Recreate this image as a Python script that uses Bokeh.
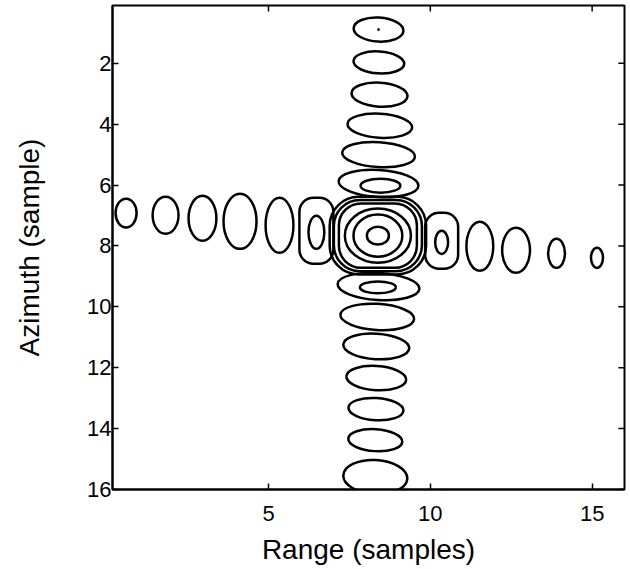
from bokeh.plotting import figure
from bokeh.models import Range1d, FixedTicker, ColumnDataSource
from bokeh.embed import file_html
from bokeh.resources import INLINE

FONT = "Liberation Sans"

# ---------------- data ----------------
x_ticks = [5, 10, 15]
y_ticks = [2, 4, 6, 8, 10, 12, 14, 16]

# azimuth sidelobes (vertical column): centre range, centre azimuth, width, height
az_lobe_x = [8.40, 8.41, 8.43, 8.44, 8.40, 8.40, 8.40, 8.36, 8.33, 8.33, 8.32, 8.30, 8.30]
az_lobe_y = [0.89, 1.97, 3.03, 4.05, 5.00, 5.95, 9.33, 10.33, 11.30, 12.34, 13.36, 14.38, 15.59]
az_lobe_w = [1.54, 1.57, 1.73, 2.00, 2.25, 2.47, 2.53, 2.28, 2.04, 1.85, 1.70, 1.67, 1.98]
az_lobe_h = [0.79, 0.72, 0.79, 0.79, 0.82, 0.89, 0.89, 0.86, 0.84, 0.80, 0.73, 0.72, 1.12]

# range sidelobes (horizontal row)
rg_lobe_x = [0.60, 1.82, 2.96, 4.12, 5.34, 11.53, 12.65, 13.90, 15.15]
rg_lobe_y = [6.92, 6.99, 7.09, 7.19, 7.32, 8.01, 8.14, 8.24, 8.39]
rg_lobe_w = [0.65, 0.80, 0.86, 1.02, 0.86, 0.83, 0.86, 0.52, 0.37]
rg_lobe_h = [0.95, 1.22, 1.48, 1.81, 1.81, 1.61, 1.48, 0.95, 0.66]

# first range sidelobes (touching the main lobe)
first_rg_x = [6.48, 10.35]
first_rg_y = [7.50, 7.83]
first_rg_w = [1.05, 1.02]
first_rg_h = [2.17, 1.84]

# inner (higher level) contours of the first sidelobes
inner_x = [8.46, 8.38, 6.48, 10.35]
inner_y = [6.02, 9.36, 7.55, 7.88]
inner_w = [1.23, 1.11, 0.49, 0.40]
inner_h = [0.46, 0.39, 1.09, 0.76]

# main lobe contour rings (innermost first)
peak_x = 8.38
peak_y = 7.66
ring_w = [0.68, 1.51, 2.04, 2.41, 2.72, 2.98]
ring_h = [0.59, 1.38, 1.78, 2.11, 2.34, 2.55]

X_MIN, X_MAX = 0.18, 16.0
Y_TOP, Y_BOTTOM = 0.1, 16.0

# ---------------- figure ----------------
p = figure(frame_width=512, frame_height=484,
           x_range=Range1d(X_MIN, X_MAX), y_range=Range1d(Y_BOTTOM, Y_TOP),
           output_backend="svg", toolbar_location=None,
           min_border_left=112, min_border_right=2,
           min_border_top=5, min_border_bottom=77)
p.grid.visible = False
p.outline_line_color = "black"
p.outline_line_width = 2
p.background_fill_color = "white"
p.border_fill_color = "white"

LW = 2.5
az_src = ColumnDataSource(dict(x=az_lobe_x, y=az_lobe_y, w=az_lobe_w, h=az_lobe_h))
p.ellipse(x="x", y="y", width="w", height="h", angle=-0.06, source=az_src,
          fill_color=None, line_color="black", line_width=LW)

rg_src = ColumnDataSource(dict(x=rg_lobe_x, y=rg_lobe_y, w=rg_lobe_w, h=rg_lobe_h))
p.ellipse(x="x", y="y", width="w", height="h", source=rg_src,
          fill_color=None, line_color="black", line_width=LW)

fr_src = ColumnDataSource(dict(x=first_rg_x, y=first_rg_y, w=first_rg_w, h=first_rg_h))
p.rect(x="x", y="y", width="w", height="h", source=fr_src, border_radius=14,
       fill_color=None, line_color="black", line_width=LW)

in_src = ColumnDataSource(dict(x=inner_x, y=inner_y, w=inner_w, h=inner_h))
p.ellipse(x="x", y="y", width="w", height="h", source=in_src,
          fill_color=None, line_color="black", line_width=LW)

# inner rings as ellipses, outer rings as rounded squares
p.ellipse(x=[peak_x] * 3, y=[peak_y] * 3, width=ring_w[:3], height=ring_h[:3],
          fill_color=None, line_color="black", line_width=LW)
radii = [22, 26, 29]
for w, h, r in zip(ring_w[3:], ring_h[3:], radii):
    p.rect(x=[peak_x], y=[peak_y], width=[w], height=[h], border_radius=r,
           fill_color=None, line_color="black", line_width=LW)

# tiny contour at the top sidelobe peak
p.scatter(x=[az_lobe_x[0]], y=[az_lobe_y[0]], size=2, color="black")

# ---------------- axes ----------------
def style_axis(ax):
    ax.major_tick_in = 6
    ax.major_tick_out = 0
    ax.minor_tick_line_color = None
    ax.axis_line_color = "black"
    ax.axis_line_width = 2
    ax.major_tick_line_width = 1.5
    ax.major_label_text_font = FONT
    ax.major_label_text_color = "black"
    ax.major_label_text_font_size = "22px"
    ax.axis_label_text_font = FONT
    ax.axis_label_text_font_size = "28px"
    ax.axis_label_text_font_style = "normal"
    ax.axis_label_text_color = "black"

p.xaxis.ticker = FixedTicker(ticks=x_ticks)
p.yaxis.ticker = FixedTicker(ticks=y_ticks)
style_axis(p.xaxis[0])
style_axis(p.yaxis[0])
p.xaxis.axis_label = "Range (samples)"
p.yaxis.axis_label = "Azimuth (sample)"
p.xaxis.major_label_standoff = 16
p.xaxis.axis_label_standoff = 10
p.yaxis.major_label_standoff = 1
p.yaxis.axis_label_standoff = 39

# inward tick marks on the top and right edges of the box
TX = 0.19   # tick length in range units (~6 px)
TY = 0.2    # tick length in azimuth units (~6 px)
p.segment(x0=x_ticks, y0=[Y_TOP] * len(x_ticks), x1=x_ticks, y1=[Y_TOP + TY] * len(x_ticks),
          line_color="black", line_width=1.5)
p.segment(x0=[X_MAX] * len(y_ticks), y0=y_ticks, x1=[X_MAX - TX] * len(y_ticks), y1=y_ticks,
          line_color="black", line_width=1.5)

open("out.html", "w").write(file_html(p, INLINE))
